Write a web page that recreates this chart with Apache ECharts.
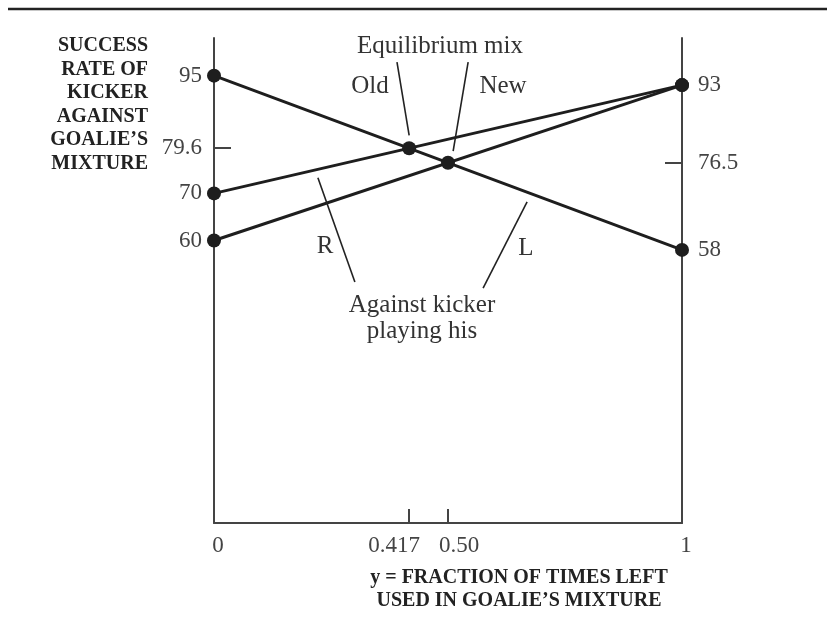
<!DOCTYPE html>
<html>
<head>
<meta charset="utf-8">
<script src="https://cdn.jsdelivr.net/npm/echarts@6/dist/echarts.min.js"></script>
<style>
html,body{margin:0;padding:0;background:#fff;}
#main{width:835px;height:628px;}
</style>
</head>
<body>
<div id="main"></div>
<script>
// ---- data ----
const xEnds = [0, 1];
const lineL = [95, 58];       // against kicker playing L
const lineROld = [70, 93];    // against kicker playing R (old)
const lineRNew = [60, 93];    // against kicker playing R (new)
const eqX = [0.417, 0.5];     // equilibrium mixes: old, new
const eqY = [79.6, 76.5];
const leftTickVals = [95, 79.6, 70, 60];
const rightTickVals = [93, 76.5, 58];
const leftMarkTicks = [79.6];
const rightMarkTicks = [76.5];
const xTickVals = [0, 0.417, 0.5, 1];
const xTickLabels = ['0', '0.417', '0.50', '1'];
const xMarkTicks = [0.417, 0.5];

const yMin = 0, yMax = 103;
const serif = '"Liberation Serif", "DejaVu Serif", serif';
const ink = '#1e1e1e';
const axisCol = '#444';

function pairs(xs, ys) { return xs.map((x, i) => [x, ys[i]]); }

const chart = echarts.init(document.getElementById('main'), null, {renderer: 'canvas'});

const xRich = {
  a: {fontFamily: serif, fontSize: 23, color: '#444', padding: [0, 0, 0, 8]},
  b: {fontFamily: serif, fontSize: 23, color: '#444', padding: [0, 30, 0, 0]},
  c: {fontFamily: serif, fontSize: 23, color: '#444', padding: [0, 0, 0, 22]},
  d: {fontFamily: serif, fontSize: 23, color: '#444', padding: [0, 0, 0, 8]}
};
const xStyleKeys = ['a', 'b', 'c', 'd'];

const leaderLines = [
  [[0.391, 97.9], [0.417, 82.3]],
  [[0.543, 97.9], [0.511, 79.0]],
  [[0.222, 73.3], [0.301, 51.2]],
  [[0.669, 68.2], [0.575, 49.9]]
];

chart.setOption({
  backgroundColor: '#fff',
  animation: false,
  grid: {left: 214, right: 153, top: 38, bottom: 105, containLabel: false},
  xAxis: {
    type: 'value', min: 0, max: 1,
    splitLine: {show: false},
    axisLine: {show: true, onZero: false, lineStyle: {color: axisCol, width: 2}},
    axisTick: {show: true, inside: true, length: 14, customValues: xMarkTicks, lineStyle: {color: axisCol, width: 2}},
    axisLabel: {
      show: true, margin: 11, customValues: xTickVals,
      formatter: function (v) {
        for (let i = 0; i < xTickVals.length; i++) {
          if (Math.abs(v - xTickVals[i]) < 1e-9) return '{' + xStyleKeys[i] + '|' + xTickLabels[i] + '}';
        }
        return '';
      },
      rich: xRich
    }
  },
  yAxis: [
    {
      type: 'value', min: yMin, max: yMax, position: 'left',
      splitLine: {show: false},
      axisLine: {show: true, onZero: false, lineStyle: {color: axisCol, width: 2}},
      axisTick: {show: true, inside: true, length: 17, customValues: leftMarkTicks, lineStyle: {color: axisCol, width: 2}},
      axisLabel: {show: true, margin: 12, customValues: leftTickVals, fontFamily: serif, fontSize: 23, color: '#444',
        formatter: v => String(v)}
    },
    {
      type: 'value', min: yMin, max: yMax, position: 'right',
      splitLine: {show: false},
      axisLine: {show: true, onZero: false, lineStyle: {color: axisCol, width: 2}},
      axisTick: {show: true, inside: true, length: 17, customValues: rightMarkTicks, lineStyle: {color: axisCol, width: 2}},
      axisLabel: {show: true, margin: 16, customValues: rightTickVals, fontFamily: serif, fontSize: 23, color: '#444',
        formatter: v => String(v)}
    }
  ],
  series: [
    {type: 'line', name: 'L', data: pairs(xEnds, lineL), symbol: 'circle', symbolSize: 14,
      lineStyle: {color: ink, width: 3}, itemStyle: {color: ink}},
    {type: 'line', name: 'R old', data: pairs(xEnds, lineROld), symbol: 'circle', symbolSize: 14,
      lineStyle: {color: ink, width: 3}, itemStyle: {color: ink}},
    {type: 'line', name: 'R new', data: pairs(xEnds, lineRNew), symbol: 'circle', symbolSize: 14,
      lineStyle: {color: ink, width: 3}, itemStyle: {color: ink}},
    {type: 'scatter', name: 'Equilibrium', data: pairs(eqX, eqY), symbol: 'circle', symbolSize: 14,
      itemStyle: {color: ink, opacity: 1}, z: 5,
      markLine: {
        silent: true, symbol: 'none', label: {show: false},
        lineStyle: {color: '#222', width: 1.6, type: 'solid', opacity: 1},
        data: leaderLines.map(p => [{coord: p[0]}, {coord: p[1]}])
      }}
  ],
  graphic: [
    {type: 'line', shape: {x1: 8, y1: 9, x2: 827, y2: 9}, style: {stroke: '#222', lineWidth: 2.5}},
    {type: 'text', x: 148, y: 34, style: {
      text: 'SUCCESS\nRATE OF\nKICKER\nAGAINST\nGOALIE\u2019S\nMIXTURE',
      font: 'bold 20px ' + serif, fill: '#222', textAlign: 'right', textVerticalAlign: 'top', lineHeight: 23.6}},
    {type: 'text', x: 519, y: 566, style: {
      text: 'y = FRACTION OF TIMES LEFT\nUSED IN GOALIE\u2019S MIXTURE',
      font: 'bold 20px ' + serif, fill: '#222', textAlign: 'center', textVerticalAlign: 'top', lineHeight: 23}},
    {type: 'text', x: 440, y: 46, style: {text: 'Equilibrium mix', font: '25px ' + serif, fill: '#333', textAlign: 'center', textVerticalAlign: 'middle'}},
    {type: 'text', x: 370, y: 86, style: {text: 'Old', font: '25px ' + serif, fill: '#333', textAlign: 'center', textVerticalAlign: 'middle'}},
    {type: 'text', x: 503, y: 86, style: {text: 'New', font: '25px ' + serif, fill: '#333', textAlign: 'center', textVerticalAlign: 'middle'}},
    {type: 'text', x: 325, y: 246, style: {text: 'R', font: '25px ' + serif, fill: '#333', textAlign: 'center', textVerticalAlign: 'middle'}},
    {type: 'text', x: 526, y: 248, style: {text: 'L', font: '25px ' + serif, fill: '#333', textAlign: 'center', textVerticalAlign: 'middle'}},
    {type: 'text', x: 422, y: 305, style: {text: 'Against kicker', font: '25px ' + serif, fill: '#333', textAlign: 'center', textVerticalAlign: 'middle'}},
    {type: 'text', x: 422, y: 331, style: {text: 'playing his', font: '25px ' + serif, fill: '#333', textAlign: 'center', textVerticalAlign: 'middle'}}
  ]
});
</script>
</body>
</html>
